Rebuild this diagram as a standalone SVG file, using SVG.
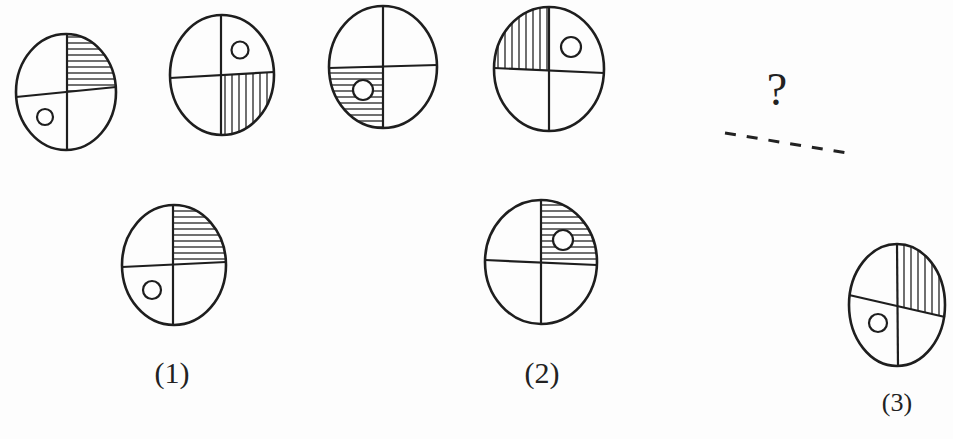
<svg xmlns="http://www.w3.org/2000/svg" width="953" height="439" viewBox="0 0 953 439">
<style>
.o{fill:none;stroke:#1e1e1e;stroke-width:2.6}
.l{fill:none;stroke:#1e1e1e;stroke-width:2.2}
.s{fill:#fff;stroke:#1e1e1e;stroke-width:2.2}
.hh{fill:url(#ph);stroke:none}
.hv{fill:url(#pv);stroke:none}
.t{font-family:"Liberation Serif","Times New Roman",serif;fill:#222;text-anchor:middle}
</style>
<defs>
<pattern id="ph" patternUnits="userSpaceOnUse" width="10" height="6"><rect width="10" height="6" fill="#fff"/><line x1="0" y1="1" x2="10" y2="1" stroke="#333" stroke-width="1.4"/></pattern>
<pattern id="pv" patternUnits="userSpaceOnUse" width="7" height="10"><rect width="7" height="10" fill="#fff"/><line x1="1" y1="0" x2="1" y2="10" stroke="#333" stroke-width="1.4"/></pattern>
</defs>
<rect width="953" height="439" fill="#fdfdfd"/>
<g id="fig1">
<path class="hh" d="M67,92 L67,34 A50,58 0 0 1 116,87 Z"/>
<ellipse class="o" cx="66" cy="92" rx="50" ry="58"/>
<line class="l" x1="67" y1="34" x2="67" y2="150"/>
<line class="l" x1="16" y1="97" x2="116" y2="87"/>
<circle class="s" cx="45" cy="117" r="8"/>
</g>
<g id="fig2">
<path class="hv" d="M221,75 L274,72 A52,60 0 0 1 221,135 Z"/>
<ellipse class="o" cx="222" cy="75" rx="52" ry="60"/>
<line class="l" x1="221" y1="15" x2="221" y2="135"/>
<line class="l" x1="170" y1="78" x2="274" y2="72"/>
<circle class="s" cx="240" cy="50" r="8.5"/>
</g>
<g id="fig3">
<path class="hh" d="M383,66.5 L383,128 A54,61 0 0 1 329,68 Z"/>
<ellipse class="o" cx="383" cy="67" rx="54" ry="61"/>
<line class="l" x1="383" y1="6" x2="383" y2="128"/>
<line class="l" x1="329" y1="68" x2="437" y2="65"/>
<circle class="s" cx="363" cy="90" r="10"/>
</g>
<g id="fig4">
<path class="hv" d="M549,70 L494,68 A55,62 0 0 1 549,7 Z"/>
<ellipse class="o" cx="549" cy="69" rx="55" ry="62"/>
<line class="l" x1="549" y1="7" x2="549" y2="131"/>
<line class="l" x1="494" y1="68" x2="604" y2="73"/>
<circle class="s" cx="571" cy="47" r="10"/>
</g>
<g id="question">
<text class="t" x="777" y="105" font-size="46">?</text>
<line x1="725" y1="133" x2="847" y2="153" stroke="#222" stroke-width="3" stroke-dasharray="11 11"/>
</g>
<g id="opt1">
<path class="hh" d="M173,264.5 L173,205 A52,60 0 0 1 226,262 Z"/>
<ellipse class="o" cx="174" cy="265" rx="52" ry="60"/>
<line class="l" x1="173" y1="205" x2="173" y2="325"/>
<line class="l" x1="122" y1="267" x2="226" y2="262"/>
<circle class="s" cx="152" cy="290" r="9"/>
<text class="t" x="172" y="383" font-size="30">(1)</text>
</g>
<g id="opt2">
<path class="hh" d="M541,262.5 L541,200 A56,62 0 0 1 597,265 Z"/>
<ellipse class="o" cx="541" cy="262" rx="56" ry="62"/>
<line class="l" x1="541" y1="200" x2="541" y2="324"/>
<line class="l" x1="485" y1="260" x2="597" y2="265"/>
<circle class="s" cx="563" cy="240" r="10"/>
<text class="t" x="542" y="383" font-size="30">(2)</text>
</g>
<g id="opt3">
<path class="hv" d="M897,306 L897,244 A48,61 0 0 1 945,317 Z"/>
<ellipse class="o" cx="897" cy="305" rx="48" ry="61" stroke="#333"/>
<line class="l" x1="897" y1="244" x2="898" y2="366"/>
<line class="l" x1="849" y1="295" x2="945" y2="317"/>
<circle class="s" cx="878" cy="323" r="9"/>
<text class="t" x="897" y="411" font-size="26">(3)</text>
</g>
</svg>
